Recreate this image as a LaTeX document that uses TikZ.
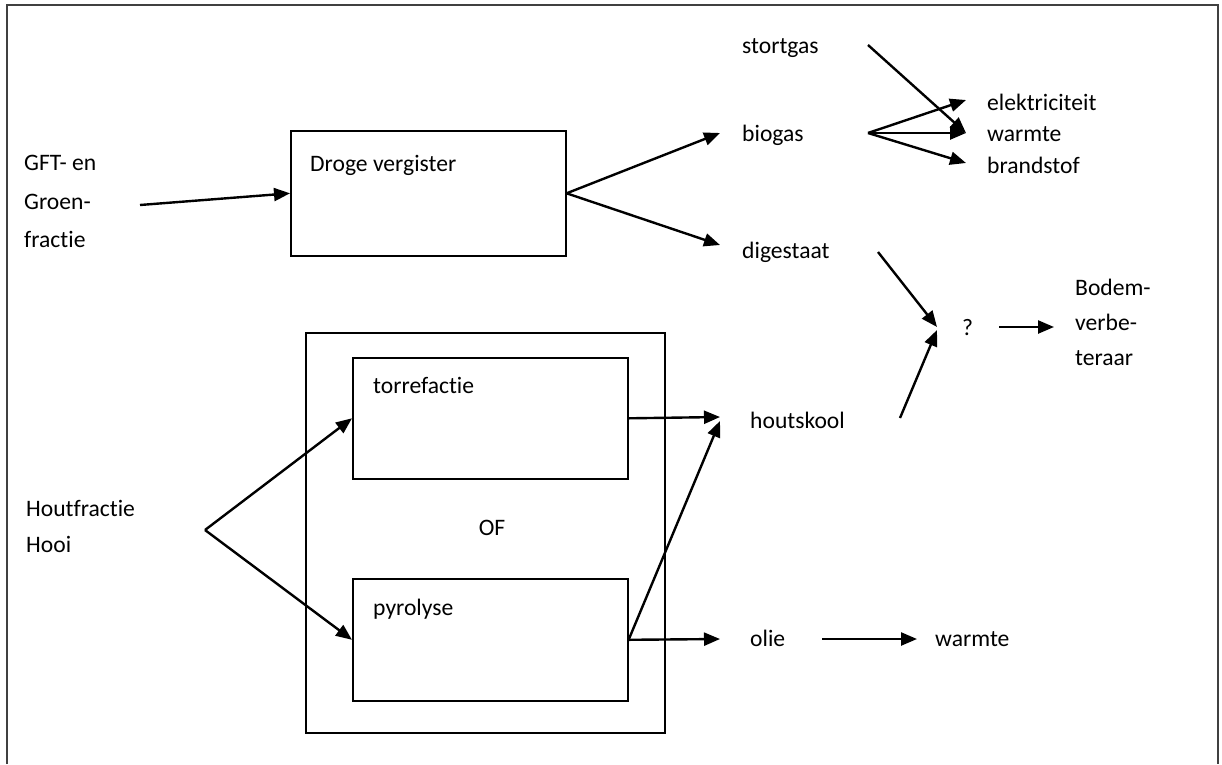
\documentclass[tikz,border=0pt]{standalone}
\usepackage{fontspec}
\setmainfont{Carlito}[RawFeature=-liga]
\usetikzlibrary{arrows.meta}
\begin{document}
\begin{tikzpicture}[x=1pt,y=-1pt,
  lbl/.style={anchor=base west, inner sep=0pt, font=\fontsize{23.6}{28}\selectfont},
  mid/.style={anchor=base, inner sep=0pt, font=\fontsize{23.6}{28}\selectfont},
  boxnode/.style={draw, line width=1.6pt, inner sep=0pt, anchor=north west},
  flow/.style={line width=2.4pt, -{Triangle[length=16pt,width=13pt]}},
  frame/.style={line width=1.8pt, draw=black!75}]
\useasboundingbox (0,0) rectangle (1222,764);

% page frame, open at the bottom
\draw[frame] (7,764) -- (7,5) -- (1218,5) -- (1218,764);

% process boxes
\node[boxnode, minimum width=275pt, minimum height=125pt] (droge) at (290,130) {};
\node[boxnode, minimum width=359pt, minimum height=400pt] (ofbox) at (305,332) {};
\node[boxnode, minimum width=275pt, minimum height=121pt] (torr) at (352,357) {};
\node[boxnode, minimum width=275pt, minimum height=122pt] (pyro) at (352,578) {};

% labels
\node[lbl] (gft1) at (24,170) {GFT- en};
\node[lbl] (gft2) at (24,209) {Groen-};
\node[lbl] (gft3) at (24,247) {fractie};
\node[lbl] (drogetxt) at (310,171) {Droge vergister};
\node[lbl] (stort) at (742,53) {stortgas};
\node[lbl] (biogas) at (742,141) {biogas};
\node[lbl] (digest) at (742,258) {digestaat};
\node[lbl] (elek) at (987,110) {elektriciteit};
\node[lbl] (warm1) at (987,141) {warmte};
\node[lbl] (brand) at (987,173) {brandstof};
\node[lbl] (vraag) at (962,335) {?};
\node[lbl] (bodem1) at (1075,295) {Bodem-};
\node[lbl] (bodem2) at (1075,330) {verbe-};
\node[lbl] (bodem3) at (1075,365) {teraar};
\node[lbl] (hkool) at (750,428) {houtskool};
\node[lbl] (torrtxt) at (373,393) {torrefactie};
\node[mid] (oftxt) at (492,535) {OF};
\node[lbl] (pyrotxt) at (373,615) {pyrolyse};
\node[lbl] (hout1) at (26,516) {Houtfractie};
\node[lbl] (hout2) at (26,552) {Hooi};
\node[lbl] (olie) at (750,646) {olie};
\node[lbl] (warm2) at (935,646) {warmte};

% connector end points
\coordinate (gftout) at (140,205);
\coordinate (bioin) at (720,133);
\coordinate (digin) at (720,245);
\coordinate (stortout) at (868,45);
\coordinate (bioout) at (868,133);
\coordinate (elekin) at (966,100);
\coordinate (warmin) at (966,133);
\coordinate (brandin) at (966,163);
\coordinate (digout) at (878,252);
\coordinate (vraagin1) at (937,327);
\coordinate (hkoolout) at (900,418);
\coordinate (vraagin2) at (937,330);
\coordinate (vraagout) at (999,327);
\coordinate (bodemin) at (1054,327);
\coordinate (houtout) at (205,530);
\coordinate (hkoolin1) at (720,417);
\coordinate (hkoolin2) at (720,421);
\coordinate (oliein) at (720,639);
\coordinate (olieout) at (822,639);
\coordinate (warm2in) at (917,639);

% connectors
\draw[flow] (gftout) -- (droge.west);
\draw[flow] (droge.east) -- (bioin);
\draw[flow] (droge.east) -- (digin);
\draw[flow] (stortout) -- (warmin);
\draw[flow] (bioout) -- (elekin);
\draw[flow] (bioout) -- (warmin);
\draw[flow] (bioout) -- (brandin);
\draw[flow] (digout) -- (vraagin1);
\draw[flow] (hkoolout) -- (vraagin2);
\draw[flow] (vraagout) -- (bodemin);
\draw[flow] (houtout) -- (torr.west);
\draw[flow] (houtout) -- (pyro.west);
\draw[flow] (torr.east) -- (hkoolin1);
\draw[flow] (pyro.east) -- (hkoolin2);
\draw[flow] (pyro.east) -- (oliein);
\draw[flow] (olieout) -- (warm2in);
\end{tikzpicture}
\end{document}
